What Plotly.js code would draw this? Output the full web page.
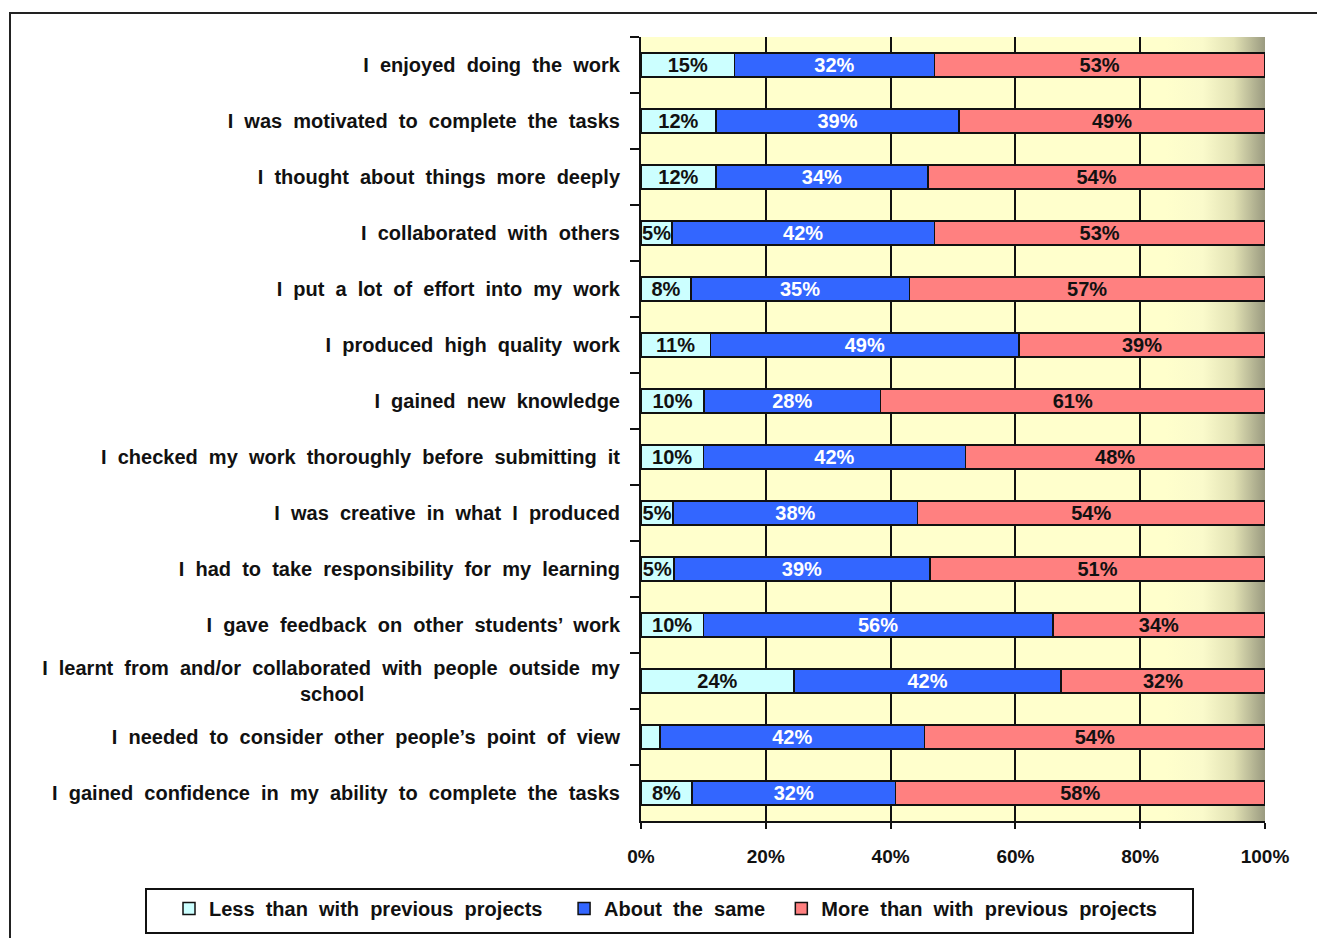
<!DOCTYPE html>
<html>
<head>
<meta charset="utf-8">
<script src="https://cdn.plot.ly/plotly-3.0.1.min.js"></script>
<style>
  html, body { margin: 0; padding: 0; background: #ffffff; }
  #chart { width: 1317px; height: 938px; }
  #frame { position: absolute; left: 9px; top: 12px; width: 1320px; height: 940px;
           border: 2px solid #222; pointer-events: none; }
</style>
</head>
<body>
<div id="chart"></div>
<div id="frame"></div>
<script>
const NB = '\u00A0';
const categories = [
  'I enjoyed doing the work',
  'I was motivated to complete the tasks',
  'I thought about things more deeply',
  'I collaborated with others',
  'I put a lot of effort into my work',
  'I produced high quality work',
  'I gained new knowledge',
  'I checked my work thoroughly before submitting it',
  'I was creative in what I produced',
  'I had to take responsibility for my learning',
  'I gave feedback on other students\u2019 work',
  'I learnt from and/or collaborated with people outside my<br>school' + NB.repeat(46),
  'I needed to consider other people\u2019s point of view',
  'I gained confidence in my ability to complete the tasks'
];
const lessThan = [15, 12, 12, 5, 8, 11, 10, 10, 5, 5, 10, 24, 3, 8];
const aboutSame = [32, 39, 34, 42, 35, 49, 28, 42, 38, 39, 56, 42, 42, 32];
const moreThan = [53, 49, 54, 53, 57, 39, 61, 48, 54, 51, 34, 32, 54, 58];
const seriesNames = ['Less than with previous projects', 'About the same', 'More than with previous projects'];
const xTicks = [0, 20, 40, 60, 80, 100];

const FONT = 'Liberation Sans, Arial, sans-serif';
const wide = s => s.replace(/ /g, '  ');
const yCats = categories.map(wide);
const lbl = arr => arr.map(v => v >= 4 ? v + '%' : '');
const legendPad = [3, 2, 0];

function mk(vals, name, color, txtColor, pad) {
  return {
    type: 'bar', orientation: 'h', y: yCats, x: vals, name: wide(name) + NB.repeat(pad),
    marker: { color: color, line: { color: '#111', width: 1.5 } },
    text: lbl(vals), textposition: 'inside', insidetextanchor: 'middle',
    constraintext: 'none', textangle: 0,
    textfont: { family: FONT, size: 20, weight: 700, color: txtColor },
    hoverinfo: 'x+y+name'
  };
}

const traces = [
  mk(lessThan, seriesNames[0], '#CCFFFF', '#111', legendPad[0]),
  mk(aboutSame, seriesNames[1], '#3366FF', '#ffffff', legendPad[1]),
  mk(moreThan, seriesNames[2], '#FF8080', '#111', legendPad[2])
];

const grad = '<svg xmlns="http://www.w3.org/2000/svg" width="100" height="100" viewBox="0 0 100 100" preserveAspectRatio="none">' +
  '<defs><linearGradient id="g" x1="0" y1="0" x2="1" y2="0">' +
  '<stop offset="0" stop-color="#FFFFCC"/><stop offset="0.84" stop-color="#FFFFCC"/>' +
  '<stop offset="0.90" stop-color="#FAFACB"/><stop offset="0.95" stop-color="#E2E2B4"/>' +
  '<stop offset="1" stop-color="#9A9A80"/></linearGradient></defs>' +
  '<rect x="0" y="0" width="100" height="100" fill="url(#g)"/></svg>';

const PW = 624, PB = 821, PH = 784, PL = 641;
const layout = {
  width: 1317, height: 938,
  margin: { l: 641, r: 52, t: 37, b: 117, autoexpand: false },
  paper_bgcolor: '#ffffff', plot_bgcolor: '#FFFFCC',
  barmode: 'stack', barnorm: 'percent', bargap: 0.57,
  font: { family: FONT, size: 20, color: '#111', weight: 700 },
  showlegend: true,
  legend: {
    orientation: 'h',
    x: (169 - PL) / PW, xanchor: 'left', y: (PB - 889) / PH, yanchor: 'top',
    borderwidth: 0, bgcolor: 'rgba(0,0,0,0)',
    font: { family: FONT, size: 20, weight: 700, color: '#111' },
    traceorder: 'normal'
  },
  shapes: [{
    type: 'rect', xref: 'paper', yref: 'paper',
    x0: (146 - PL) / PW, x1: (1193 - PL) / PW,
    y0: (PB - 933) / PH, y1: (PB - 889) / PH,
    line: { color: '#111', width: 2 }, fillcolor: 'rgba(0,0,0,0)', layer: 'above'
  }],
  xaxis: {
    range: [0, 100], tickvals: xTicks, ticktext: xTicks.map(v => v + '%'),
    showgrid: true, gridcolor: '#111', gridwidth: 2,
    showline: true, linecolor: '#111', linewidth: 2,
    ticks: 'outside', ticklen: 6, tickwidth: 2, tickcolor: '#111',
    ticklabelstandoff: 11,
    tickfont: { family: FONT, size: 19, weight: 700, color: '#111' },
    zeroline: false, fixedrange: true
  },
  yaxis: {
    type: 'category', autorange: 'reversed',
    showline: true, linecolor: '#111', linewidth: 2,
    ticks: 'outside', ticklen: 9, tickwidth: 1.5, tickcolor: '#111',
    tickson: 'boundaries', showgrid: false,
    ticklabelstandoff: 15,
    tickfont: { family: FONT, size: 20, weight: 700, color: '#111' },
    fixedrange: true
  },
  images: [{
    source: 'data:image/svg+xml;charset=utf-8,' + encodeURIComponent(grad),
    xref: 'x', yref: 'paper', x: 0, y: 1, sizex: 100, sizey: 1,
    sizing: 'stretch', layer: 'below', xanchor: 'left', yanchor: 'top'
  }]
};

Plotly.newPlot('chart', traces, layout, { displayModeBar: false, staticPlot: true });
</script>
</body>
</html>
